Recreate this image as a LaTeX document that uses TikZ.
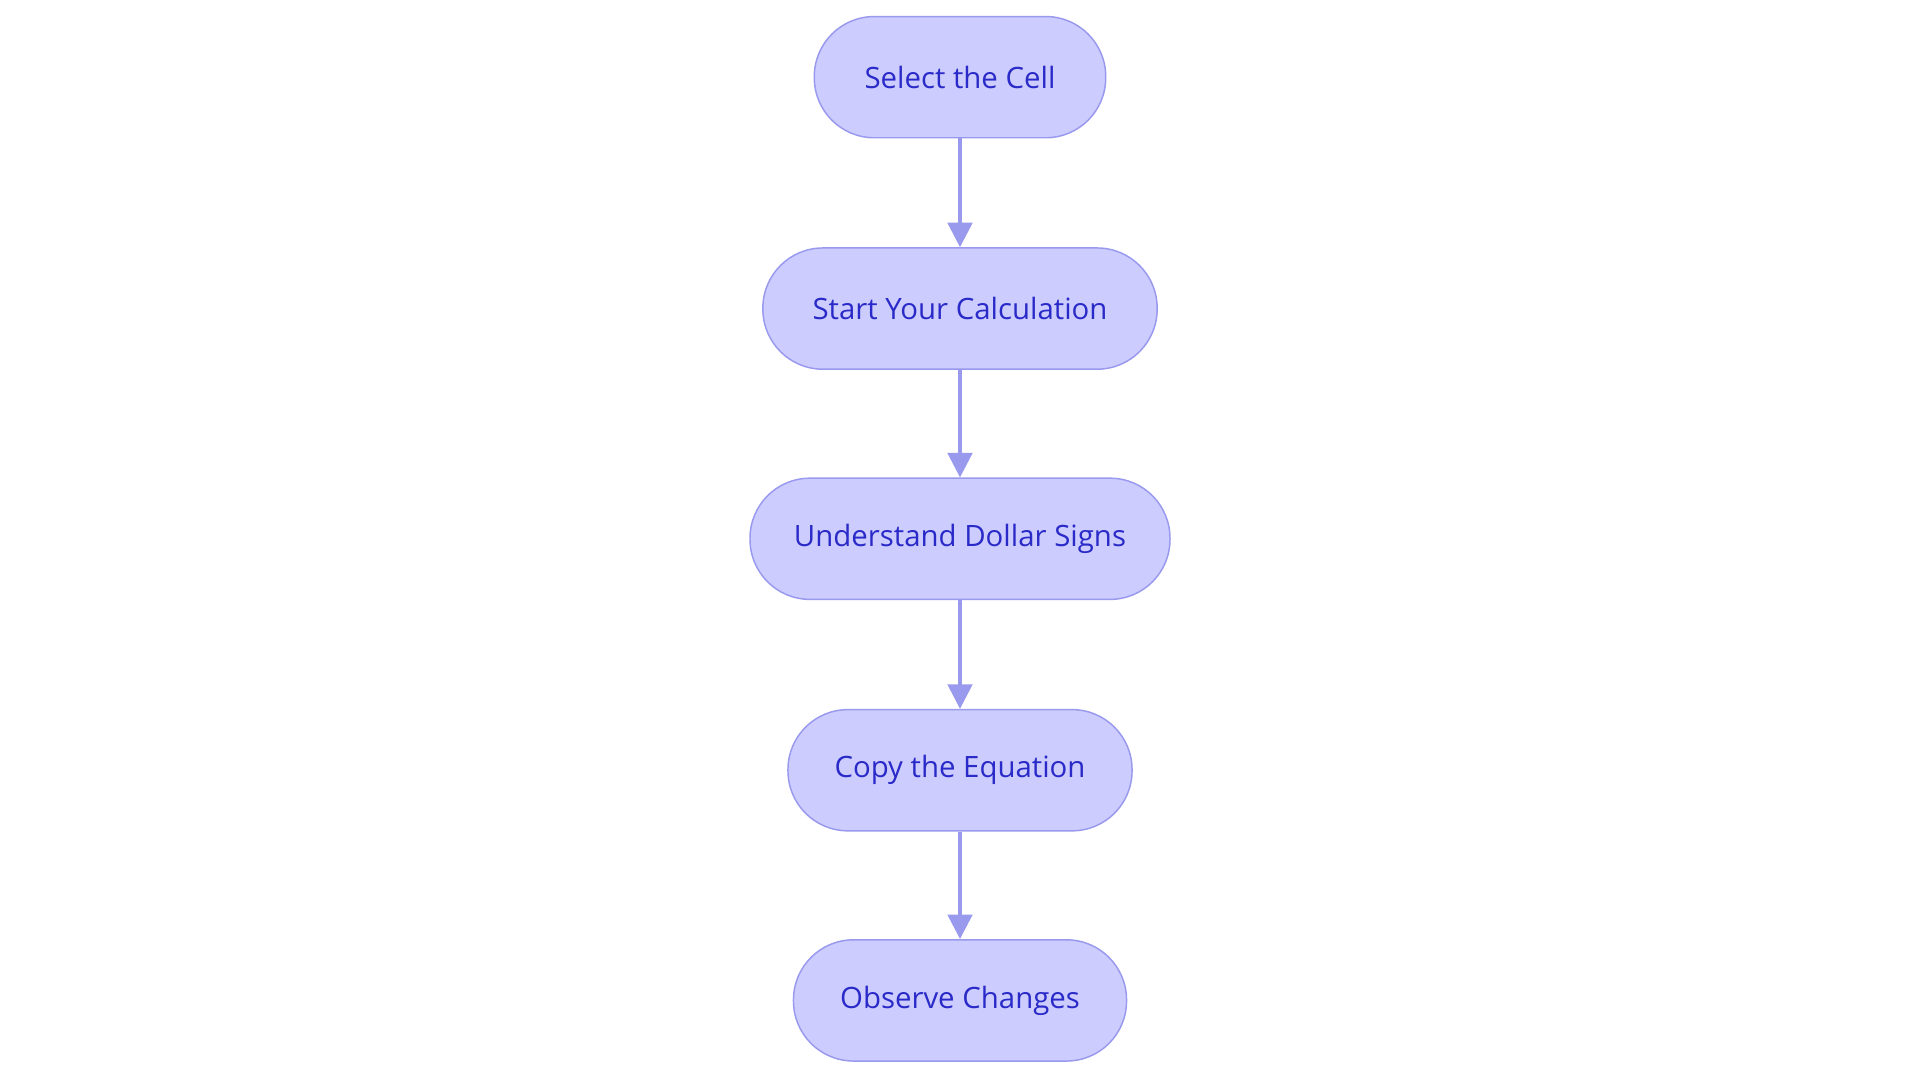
\documentclass[tikz,border=0pt]{standalone}
\usepackage{fontspec}
\setmainfont{Open Sans}
\usetikzlibrary{arrows.meta}
\definecolor{nfill}{HTML}{CCCCFF}
\definecolor{nline}{HTML}{9999EE}
\definecolor{ntext}{HTML}{2A2AC8}
\begin{document}
\begin{tikzpicture}[x=0.5pt,y=-0.5pt,
  box/.style={draw=nline,fill=nfill,line width=0.6pt,rounded corners=24.5pt,minimum height=49.5pt,text=ntext,font=\fontsize{12pt}{14pt}\selectfont,inner sep=0pt},
  arr/.style={draw=nline,line width=1.4pt,-{Triangle[length=10pt,width=10pt]}}]
\useasboundingbox (0,0) rectangle (1568,884.4);
\node[box,minimum width=119pt] (a) at (784,63) {Select the Cell};
\node[box,minimum width=161pt] (b) at (784,252) {Start Your Calculation};
\node[box,minimum width=171.5pt] (c) at (784,440) {Understand Dollar Signs};
\node[box,minimum width=140.5pt] (d) at (784,629) {Copy the Equation};
\node[box,minimum width=136pt] (e) at (784,817) {Observe Changes};
\draw[arr] (a) -- (b);
\draw[arr] (b) -- (c);
\draw[arr] (c) -- (d);
\draw[arr] (d) -- (e);
\end{tikzpicture}
\end{document}
